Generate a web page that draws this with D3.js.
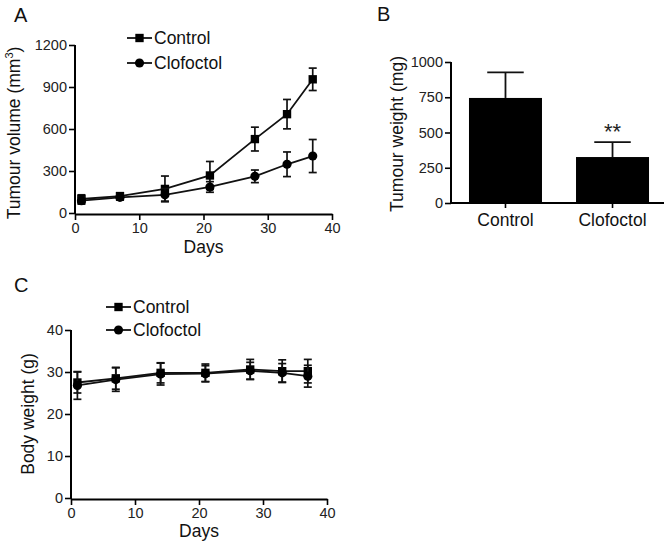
<!DOCTYPE html>
<html><head><meta charset="utf-8">
<script src="https://cdn.jsdelivr.net/npm/d3@7"></script>
<style>
body{margin:0;background:#fff;}
svg{display:block;font-family:"Liberation Sans",Arial,Helvetica,sans-serif;}
</style></head>
<body>
<svg id="chart" width="670" height="548"></svg>
<script>
// ---- Data ----
const days = [1, 7, 14, 21, 28, 33, 37];
const volControl = [100, 120, 172, 268, 528, 706, 955];
const volControlErr = [30, 25, 92, 100, 85, 105, 80];
const volClofoctol = [88, 112, 130, 186, 262, 348, 407];
const volClofoctolErr = [25, 20, 45, 38, 45, 88, 118];

const weightGroups = ["Control", "Clofoctol"];
const weightValues = [745, 326];
const weightErr = [182, 106];

const bodyControl = [27.5, 28.5, 29.8, 29.8, 30.6, 30.2, 30.2];
const bodyControlErr = [2.5, 2.6, 2.4, 2.1, 2.4, 2.7, 2.8];
const bodyClofoctol = [26.8, 28.2, 29.5, 29.6, 30.3, 29.8, 29.0];
const bodyClofoctolErr = [3.3, 2.8, 2.6, 1.9, 2.0, 2.2, 2.6];

const xTicks = [0, 10, 20, 30, 40];
const volTicks = [0, 300, 600, 900, 1200];
const weightTicks = [0, 250, 500, 750, 1000];
const bodyTicks = [0, 10, 20, 30, 40];
const seriesNames = ["Control", "Clofoctol"];

const svg = d3.select("#chart");
const tickFont = "14.5px", titleFont = "17.5px";
const fmt = d3.format("d");

function styleAxis(g){
  g.selectAll("path.domain").attr("stroke","#000").attr("stroke-width",2);
  g.selectAll(".tick line").attr("stroke","#000").attr("stroke-width",1.6);
  g.selectAll(".tick text").attr("fill","#222").style("font-size",tickFont).style("font-family",'"Liberation Sans",Arial,sans-serif');
}

function linePanel(opt){
  const x = d3.scaleLinear().domain([0,40]).range(opt.xr);
  const y = d3.scaleLinear().domain(opt.ydom).range(opt.yr);
  const gx = svg.append("g").attr("transform",`translate(0,${opt.yr[0]+1})`)
    .call(d3.axisBottom(x).tickValues(xTicks).tickFormat(fmt).tickSize(6).tickPadding(3).tickSizeOuter(0));
  styleAxis(gx);
  const gy = svg.append("g").attr("transform",`translate(${opt.xr[0]},0)`)
    .call(d3.axisLeft(y).tickValues(opt.yTicks).tickFormat(fmt).tickSize(6).tickPadding(2).tickSizeOuter(0));
  styleAxis(gy);
  gy.select("path.domain").attr("d",`M0,${opt.yr[0]+1}V${opt.yr[1]}`);

  const series = [
    {vals:opt.c, err:opt.ce, shape:d3.symbolSquare, size:70},
    {vals:opt.f, err:opt.fe, shape:d3.symbolCircle, size:66}
  ];
  const line = d3.line().x((d,i)=>x(days[i])).y(d=>y(d));
  series.forEach(s=>{
    svg.append("path").datum(s.vals).attr("d",line).attr("fill","none").attr("stroke","#111").attr("stroke-width",1.8);
  });
  series.forEach(s=>{
    const g = svg.append("g").attr("stroke","#111").attr("stroke-width",1.7);
    s.vals.forEach((v,i)=>{
      const cx = x(days[i]), y0=y(v-s.err[i]), y1=y(v+s.err[i]);
      g.append("line").attr("x1",cx).attr("x2",cx).attr("y1",y0).attr("y2",y1);
      g.append("line").attr("x1",cx-4).attr("x2",cx+4).attr("y1",y0).attr("y2",y0);
      g.append("line").attr("x1",cx-4).attr("x2",cx+4).attr("y1",y1).attr("y2",y1);
    });
    svg.append("g").selectAll("path").data(s.vals).join("path")
      .attr("transform",(d,i)=>`translate(${x(days[i])},${y(d)})`)
      .attr("d",d3.symbol().type(s.shape).size(s.size)).attr("fill","#000");
  });
  // legend
  seriesNames.forEach((n,i)=>{
    const ly = opt.leg.y[i];
    svg.append("line").attr("x1",opt.leg.x0).attr("x2",opt.leg.x1).attr("y1",ly).attr("y2",ly)
      .attr("stroke","#111").attr("stroke-width",1.8);
    svg.append("path").attr("transform",`translate(${(opt.leg.x0+opt.leg.x1)/2},${ly})`)
      .attr("d",d3.symbol().type(series[i].shape).size(series[i].size)).attr("fill","#000");
    svg.append("text").attr("x",opt.leg.x1+2).attr("y",ly+6).text(n)
      .style("font-size",titleFont).attr("fill","#111");
  });
  svg.append("text").attr("x",(opt.xr[0]+opt.xr[1])/2).attr("y",opt.daysY).attr("text-anchor","middle")
    .style("font-size",titleFont).attr("fill","#111").text("Days");
  return {x,y};
}

// Panel A
linePanel({xr:[75,332], ydom:[0,1200], yr:[213,45], yTicks:volTicks,
  c:volControl, ce:volControlErr, f:volClofoctol, fe:volClofoctolErr,
  leg:{x0:127,x1:152,y:[38,63]}, daysY:253});
const tA = svg.append("text").attr("transform","translate(20,133) rotate(-90)").attr("text-anchor","middle")
  .style("font-size",titleFont).attr("fill","#111");
tA.append("tspan").text("Tumour volume (mm");
tA.append("tspan").attr("dy",-7).style("font-size","11px").text("3");
tA.append("tspan").attr("dy",7).text(")");

// Panel C
linePanel({xr:[71,327], ydom:[0,40], yr:[498,330], yTicks:bodyTicks,
  c:bodyControl, ce:bodyControlErr, f:bodyClofoctol, fe:bodyClofoctolErr,
  leg:{x0:106,x1:131,y:[307,330]}, daysY:537});
svg.append("text").attr("transform","translate(34,414) rotate(-90)").attr("text-anchor","middle")
  .style("font-size",titleFont).attr("fill","#111").text("Body weight (g)");

// Panel B
{
  const x = d3.scaleBand().domain(weightGroups).range([451,667]).paddingInner(0.318).paddingOuter(0.168);
  const y = d3.scaleLinear().domain([0,1000]).range([203,62]);
  const bw = x.bandwidth();
  const ge = svg.append("g").attr("stroke","#111").attr("stroke-width",1.8);
  weightValues.forEach((v,i)=>{
    const cx = x(weightGroups[i]) + bw/2;
    ge.append("line").attr("x1",cx).attr("x2",cx).attr("y1",y(v)).attr("y2",y(v+weightErr[i]));
    ge.append("line").attr("x1",cx-bw/4).attr("x2",cx+bw/4).attr("y1",y(v+weightErr[i])).attr("y2",y(v+weightErr[i]));
  });
  svg.append("g").selectAll("rect").data(weightValues).join("rect")
    .attr("x",(d,i)=>x(weightGroups[i])).attr("width",bw)
    .attr("y",d=>y(d)).attr("height",d=>y(0)-y(d)).attr("fill","#000");
  const gx = svg.append("g").attr("transform","translate(0,203)")
    .call(d3.axisBottom(x).tickSize(5).tickPadding(6).tickSizeOuter(0));
  styleAxis(gx);
  gx.selectAll(".tick text").style("font-size",titleFont).attr("fill","#111");
  gx.select("path.domain").attr("d","M451,0H664");
  const gy = svg.append("g").attr("transform","translate(451,0)")
    .call(d3.axisLeft(y).tickValues(weightTicks).tickFormat(fmt).tickSize(6).tickPadding(2).tickSizeOuter(0));
  styleAxis(gy);
  gy.select("path.domain").attr("d","M0,204V62");
  svg.append("text").attr("x",x("Clofoctol")+bw/2).attr("y",y(weightValues[1]+weightErr[1])-3)
    .attr("text-anchor","middle").style("font-size","22px").attr("fill","#222").text("**");
  svg.append("text").attr("transform","translate(403,134) rotate(-90)").attr("text-anchor","middle")
    .style("font-size",titleFont).attr("fill","#111").text("Tumour weight (mg)");
}

// panel labels
[["A",14,22],["B",377,21],["C",14,292]].forEach(([t,lx,ly])=>{
  svg.append("text").attr("x",lx).attr("y",ly).text(t).style("font-size","20px").attr("fill","#111");
});
</script>
</body></html>
